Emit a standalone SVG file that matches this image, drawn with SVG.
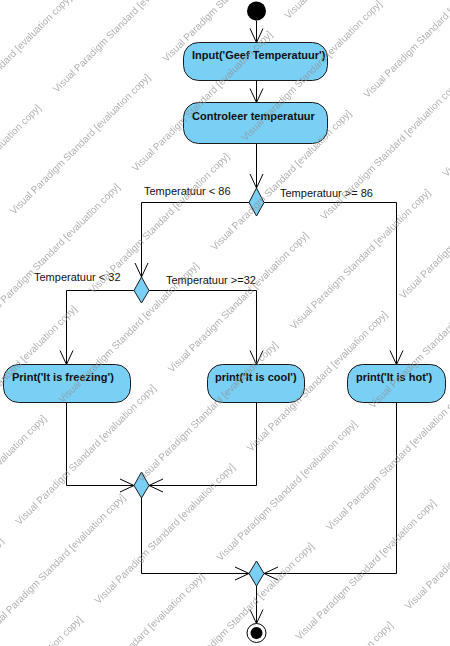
<svg xmlns="http://www.w3.org/2000/svg" width="450" height="646" viewBox="0 0 450 646">
<style>
.act{fill:#7ACFF5;stroke:#1a1a1a;stroke-width:1}
.dec{fill:#7ACFF5;stroke:#1a1a1a;stroke-width:1}
.lbl{font-family:"Liberation Sans",Arial,sans-serif;font-size:11px;font-weight:bold;fill:#111}
.guard{font-family:"Liberation Sans",Arial,sans-serif;font-size:11px;fill:#111}
.con{fill:none;stroke:#000;stroke-width:1}
.wm{font-family:"Liberation Sans",Arial,sans-serif;font-size:10px;fill:#909090;opacity:0.7}
</style>
<defs>
<marker id="arr" markerUnits="userSpaceOnUse" markerWidth="30" markerHeight="30" refX="0" refY="0" orient="auto" overflow="visible">
<path d="M-14,-6.5 L0,0 L-14,6.5" fill="none" stroke="#000" stroke-width="1"/>
</marker>
</defs>
<rect width="450" height="646" fill="#fff"/>
<g id="connectors">
<path class="con" d="M256.5,20.5 V42.5" marker-end="url(#arr)"/>
<path class="con" d="M256.5,80.5 V102.5" marker-end="url(#arr)"/>
<path class="con" d="M256.5,143.5 V188" marker-end="url(#arr)"/>
<path class="con" d="M249,202.5 H141.5 V277" marker-end="url(#arr)"/>
<path class="con" d="M264,202.5 H396.5 V364.5" marker-end="url(#arr)"/>
<path class="con" d="M134,290.5 H66.5 V364.5" marker-end="url(#arr)"/>
<path class="con" d="M149,290.5 H256.5 V364.5" marker-end="url(#arr)"/>
<path class="con" d="M66.5,402.5 V485.5 H134" marker-end="url(#arr)"/>
<path class="con" d="M256.5,402.5 V485.5 H149" marker-end="url(#arr)"/>
<path class="con" d="M141.5,498 V573.5 H249" marker-end="url(#arr)"/>
<path class="con" d="M396.5,402.5 V573.5 H264" marker-end="url(#arr)"/>
<path class="con" d="M256.5,586 V623.5" marker-end="url(#arr)"/>
<text class="guard" x="144" y="195">Temperatuur &lt; 86</text>
<text class="guard" x="280" y="197">Temperatuur &gt;= 86</text>
<text class="guard" x="34" y="281">Temperatuur &lt; 32</text>
<text class="guard" x="166" y="284">Temperatuur &gt;=32</text>
</g>
<g id="start"><circle cx="256.5" cy="11" r="9.5" fill="#000"/></g>
<g id="input"><rect class="act" x="183.5" y="42.5" width="144" height="38" rx="15"/><text class="lbl" x="192" y="59">Input('Geef Temperatuur')</text></g>
<g id="controleer"><rect class="act" x="183.5" y="102.5" width="144" height="41" rx="15"/><text class="lbl" x="192" y="120">Controleer temperatuur</text></g>
<g id="decision1"><polygon class="dec" points="256.5,188 264,202.5 256.5,216 249,202.5"/></g>
<g id="decision2"><polygon class="dec" points="141.5,277 149,290.5 141.5,303 134,290.5"/></g>
<g id="freezing"><rect class="act" x="3.5" y="364.5" width="127" height="38" rx="15"/><text class="lbl" x="12" y="381">Print('It is freezing')</text></g>
<g id="cool"><rect class="act" x="207.5" y="364.5" width="97" height="38" rx="15"/><text class="lbl" x="215" y="381">print('It is cool')</text></g>
<g id="hot"><rect class="act" x="347.5" y="364.5" width="98" height="38" rx="15"/><text class="lbl" x="356" y="381">print('It is hot')</text></g>
<g id="merge1"><polygon class="dec" points="141.5,472 149,485.5 141.5,498 134,485.5"/></g>
<g id="merge2"><polygon class="dec" points="256.5,561 264,573.5 256.5,586 249,573.5"/></g>
<g id="end"><circle cx="256.5" cy="633" r="9.5" fill="#fff" stroke="#000"/><circle cx="256.5" cy="633" r="6" fill="#000"/></g>
<g id="watermark" class="wm">
<text transform="translate(-65,136) rotate(-45)">Visual Paradigm Standard [evaluation copy]</text>
<text transform="translate(-95.5,245.5) rotate(-45)">Visual Paradigm Standard [evaluation copy]</text>
<text transform="translate(57,93) rotate(-45)">Visual Paradigm Standard [evaluation copy]</text>
<text transform="translate(14,215) rotate(-45)">Visual Paradigm Standard [evaluation copy]</text>
<text transform="translate(166.5,62.5) rotate(-45)">Visual Paradigm Standard [evaluation copy]</text>
<text transform="translate(-16.5,324.5) rotate(-45)">Visual Paradigm Standard [evaluation copy]</text>
<text transform="translate(136,172) rotate(-45)">Visual Paradigm Standard [evaluation copy]</text>
<text transform="translate(288.5,19.5) rotate(-45)">Visual Paradigm Standard [evaluation copy]</text>
<text transform="translate(-59.5,446.5) rotate(-45)">Visual Paradigm Standard [evaluation copy]</text>
<text transform="translate(93,294) rotate(-45)">Visual Paradigm Standard [evaluation copy]</text>
<text transform="translate(245.5,141.5) rotate(-45)">Visual Paradigm Standard [evaluation copy]</text>
<text transform="translate(-90,556) rotate(-45)">Visual Paradigm Standard [evaluation copy]</text>
<text transform="translate(62.5,403.5) rotate(-45)">Visual Paradigm Standard [evaluation copy]</text>
<text transform="translate(215,251) rotate(-45)">Visual Paradigm Standard [evaluation copy]</text>
<text transform="translate(367.5,98.5) rotate(-45)">Visual Paradigm Standard [evaluation copy]</text>
<text transform="translate(-133,678) rotate(-45)">Visual Paradigm Standard [evaluation copy]</text>
<text transform="translate(19.5,525.5) rotate(-45)">Visual Paradigm Standard [evaluation copy]</text>
<text transform="translate(172,373) rotate(-45)">Visual Paradigm Standard [evaluation copy]</text>
<text transform="translate(324.5,220.5) rotate(-45)">Visual Paradigm Standard [evaluation copy]</text>
<text transform="translate(-11,635) rotate(-45)">Visual Paradigm Standard [evaluation copy]</text>
<text transform="translate(141.5,482.5) rotate(-45)">Visual Paradigm Standard [evaluation copy]</text>
<text transform="translate(294,330) rotate(-45)">Visual Paradigm Standard [evaluation copy]</text>
<text transform="translate(446.5,177.5) rotate(-45)">Visual Paradigm Standard [evaluation copy]</text>
<text transform="translate(-54,757) rotate(-45)">Visual Paradigm Standard [evaluation copy]</text>
<text transform="translate(98.5,604.5) rotate(-45)">Visual Paradigm Standard [evaluation copy]</text>
<text transform="translate(251,452) rotate(-45)">Visual Paradigm Standard [evaluation copy]</text>
<text transform="translate(403.5,299.5) rotate(-45)">Visual Paradigm Standard [evaluation copy]</text>
<text transform="translate(68,714) rotate(-45)">Visual Paradigm Standard [evaluation copy]</text>
<text transform="translate(220.5,561.5) rotate(-45)">Visual Paradigm Standard [evaluation copy]</text>
<text transform="translate(373,409) rotate(-45)">Visual Paradigm Standard [evaluation copy]</text>
<text transform="translate(177.5,683.5) rotate(-45)">Visual Paradigm Standard [evaluation copy]</text>
<text transform="translate(330,531) rotate(-45)">Visual Paradigm Standard [evaluation copy]</text>
<text transform="translate(299.5,640.5) rotate(-45)">Visual Paradigm Standard [evaluation copy]</text>
<text transform="translate(256.5,762.5) rotate(-45)">Visual Paradigm Standard [evaluation copy]</text>
<text transform="translate(409,610) rotate(-45)">Visual Paradigm Standard [evaluation copy]</text>
</g>
</svg>
